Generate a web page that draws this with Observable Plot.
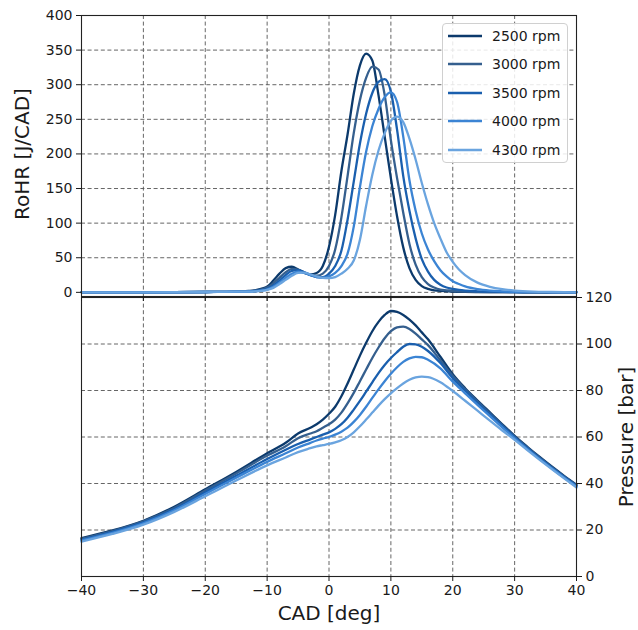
<!DOCTYPE html>
<html><head><meta charset="utf-8">
<script src="https://cdn.jsdelivr.net/npm/d3@7"></script>
<script src="https://cdn.jsdelivr.net/npm/@observablehq/plot@0.6"></script>
<style>
body{margin:0;background:#fff;font-family:"DejaVu Sans",sans-serif;}
#chart{position:relative;width:638px;height:630px;overflow:hidden;}
#chart svg{position:absolute;left:0;}
.lbl{position:absolute;font-size:20px;line-height:20px;color:#1a1a1a;white-space:nowrap;}
</style></head>
<body><div id="chart"></div>
<script>
const speeds = ["2500 rpm","3000 rpm","3500 rpm","4000 rpm","4300 rpm"];
const colors = ["#0c3a6c","#355f8e","#1a5fae","#3b84d4","#6aa4df"];
const xTicks = [-40,-30,-20,-10,0,10,20,30,40];
const rohrTicks = [0,50,100,150,200,250,300,350,400];
const pressTicks = [0,20,40,60,80,100,120];

// Rate of heat release [J/CAD]
const rohrCAD = [-40,-30,-20,-15,-13,-12,-11,-10,-9,-8,-7,-6,-5,-4,-3,-2,-1,0,1,2,3,4,5,6,7,8,9,10,11,12,13,14,15,16,17,18,19,20,21,22,24,26,28,30,33,36,40];
const rohr2500 = [0,0,0.5,1,2,3,5,8,17,27,35,37,33,28,26,28,38,66,112,175,228,287,328,345,335,285,225,165,110,65,35,18,9,5,3,2,1.5,1,0.8,0.6,0.4,0.3,0.2,0.2,0.1,0,0];
const rohr3000 = [0,0,0.5,1,1.5,2.5,4,7,13,21,29,34,33,29,25,24,27,38,62,108,168,230,278,310,326,322,285,220,165,115,70,40,22,12,7,4,3,2,1.5,1.2,0.8,0.5,0.3,0.2,0.1,0,0];
const rohr3500 = [0,0,0.5,1,1.5,2,3,5,10,17,25,31,32,29,25,22,22,27,38,60,105,160,215,258,288,304,308,290,235,168,118,78,48,30,18,11,7,5,3.5,2.5,1.5,1,0.6,0.4,0.2,0.1,0];
const rohr4000 = [0,0,0.5,1,1.2,1.5,2.5,4,8,14,21,27,30,28,25,22,21,23,28,38,56,95,152,203,240,265,282,289,275,225,162,118,85,62,45,32,23,16,12,8.5,4.5,2.5,1.5,0.8,0.4,0.2,0];
const rohr4300 = [0,0,0.5,1,1,1.3,2,3.5,6.5,12,18,24,28,28.5,26,23,21,20.5,22,27,34,46,76,125,170,205,230,248,254,246,222,192,158,127,100,78,58,44,33,25,14,8,4.5,2.5,1,0.5,0];

// Cylinder pressure [bar]
const pressCAD = [-40,-35,-30,-25,-20,-15,-10,-7,-5,-3,-2,-1,0,1,2,3,4,5,6,7,8,9,10,11,12,13,14,15,16,18,20,22,24,26,28,30,32,34,36,38,40];
const p2500 = [16.5,19.8,24,30,37.5,45,53,57.5,61.5,64,65.5,67.5,70,73,77.5,83,89,95,100.5,105.5,109.5,112.5,114.2,113.8,112.5,110.5,108,105,102,94.5,87,81,75.7,70.6,65.5,60.5,55.9,51.5,47.3,43.3,39.5];
const p3000 = [16.2,19.5,23.7,29.5,37,44.3,52,56,59.5,61.5,62.5,64,65.5,67.5,70.5,74.5,79,84,89,94,98.5,102.5,105.5,107.2,107.5,106.5,104.5,102,99.5,93,86.3,80.6,75.3,70.2,65.1,60.2,55.6,51.2,47,43,39.2];
const p3500 = [15.8,19.2,23.3,29,36.2,43.3,50.5,54.5,57,59,60,61,62,63.5,65.5,68.3,71.8,75.5,79.5,83.5,87.5,91,94,96.5,98.8,100,99.8,98.8,97,91.8,85.3,79.9,74.7,69.7,64.8,59.9,55.3,50.9,46.8,42.8,39];
const p4000 = [15.5,18.8,22.9,28.5,35.5,42.5,49.3,53,55.5,57.5,58.5,59.3,60,61,62.3,64,66.5,69.5,73,76.8,80.5,84,87.2,90,92.3,93.8,94.5,94.3,93.2,89.5,83.8,78.8,73.8,69,64.1,59.4,54.9,50.6,46.5,42.5,38.7];
const p4300 = [15,18.3,22.3,27.8,34.5,41.3,47.8,51.2,53.5,55.2,56,56.5,57,57.7,58.6,60,62,64.6,67.5,70.5,73.5,76.3,78.8,81,83,84.6,85.6,86,85.8,83.6,79.8,75.6,71.3,67,62.8,58.8,54.5,50.3,46.2,42.2,38.3];

const rohrSeries = [rohr2500,rohr3000,rohr3500,rohr4000,rohr4300];
const pressSeries = [p2500,p3000,p3500,p4000,p4300];
const rohrData = rohrSeries.flatMap((ys,i)=>ys.map((y,j)=>({x:rohrCAD[j],y,s:speeds[i]})));
const pressData = pressSeries.flatMap((ys,i)=>ys.map((y,j)=>({x:pressCAD[j],y,s:speeds[i]})));

const gridStyle = {stroke:"#555", strokeOpacity:1, strokeWidth:0.9, strokeDasharray:"4,2.6"};
const colorScale = {domain:speeds, range:colors};
const common = {width:638, marginLeft:81, marginRight:62,
  style:{fontFamily:"DejaVu Sans", fontSize:"14px", background:"transparent", overflow:"visible", color:"#1a1a1a"}};

const bottomPlot = Plot.plot({
  ...common, height:343, marginTop:10, marginBottom:54,
  x:{domain:[-40,40]}, y:{domain:[0,120]}, color:colorScale,
  marks:[
    Plot.gridX(xTicks, gridStyle),
    Plot.gridY(pressTicks, gridStyle),
    Plot.line(pressData,{x:"x",y:"y",z:"s",stroke:"s",curve:"monotone-x",strokeWidth:2.3}),
    Plot.frame({stroke:"#222", strokeWidth:1.1}),
    Plot.axisY(pressTicks,{anchor:"right", tickSize:5, tickPadding:4, fontSize:14, label:null}),
    Plot.axisX(xTicks,{anchor:"bottom", tickSize:5, tickPadding:4, fontSize:14, label:null})
  ]
});
bottomPlot.style.top = "287px";

const topPlot = Plot.plot({
  ...common, height:302, marginTop:15, marginBottom:6,
  x:{domain:[-40,40]}, y:{domain:[-6,400]}, color:colorScale,
  marks:[
    Plot.gridX(xTicks, gridStyle),
    Plot.gridY(rohrTicks, gridStyle),
    Plot.line(rohrData,{x:"x",y:"y",z:"s",stroke:"s",curve:"monotone-x",strokeWidth:2.3}),
    Plot.frame({stroke:"#222", strokeWidth:1.1}),
    Plot.axisY(rohrTicks,{anchor:"left", tickSize:5, tickPadding:4, fontSize:14, label:null}),
    Plot.axisX(xTicks,{anchor:"bottom", tickSize:5, tickFormat:()=>"", label:null})
  ]
});
topPlot.style.top = "0px";

const chart = document.getElementById("chart");
chart.appendChild(bottomPlot);
chart.appendChild(topPlot);

// axis titles
function addLabel(text, x, y, rot){
  const d = document.createElement("div");
  d.className = "lbl"; d.textContent = text;
  d.style.left = x+"px"; d.style.top = y+"px";
  d.style.transform = "translate(-50%,-50%)" + (rot ? ` rotate(${rot}deg)` : "");
  chart.appendChild(d);
}
addLabel("RoHR [J/CAD]", 22, 154, -90);
addLabel("Pressure [bar]", 626, 437, -90);
addLabel("CAD [deg]", 329, 613, 0);

// legend
const leg = document.createElement("div");
leg.style.cssText = "position:absolute;left:442px;top:23px;width:126px;height:140px;box-sizing:border-box;border:1px solid #d0d0d0;border-radius:4px;background:rgba(255,255,255,0.85);";
speeds.forEach((s,i)=>{
  const row = document.createElement("div");
  row.style.cssText = `position:absolute;left:5px;top:${2+i*28.4}px;height:20px;display:flex;align-items:center;font-size:14px;color:#1a1a1a;`;
  row.innerHTML = `<svg width="34" height="6" style="position:static;margin-right:10px"><line x1="0" x2="34" y1="3" y2="3" stroke="${colors[i]}" stroke-width="2.6"/></svg><span>${s}</span>`;
  leg.appendChild(row);
});
chart.appendChild(leg);
</script>
</body></html>
